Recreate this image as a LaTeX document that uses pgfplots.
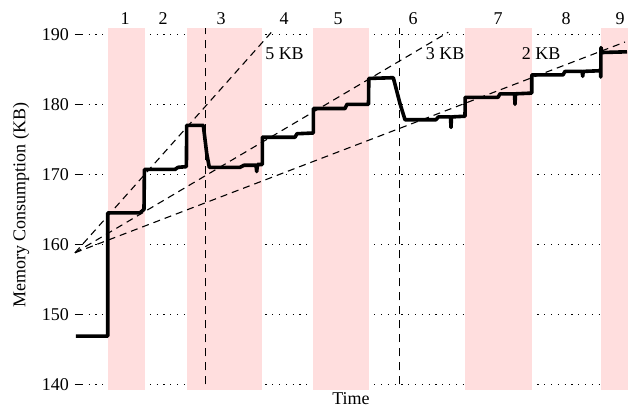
\documentclass[border=0pt]{standalone}
\usepackage{pgfplots}
\pgfplotsset{compat=1.18}
\usepackage{fontspec}
\setmainfont{Liberation Serif}
\definecolor{bandpink}{RGB}{255,222,222}
\begin{document}
\begin{tikzpicture}
\useasboundingbox (-75pt,-18pt) rectangle (553pt,390pt);
\begin{axis}[
  scale only axis, width=553pt, height=362pt,
  xmin=75, xmax=628, ymin=139.2, ymax=190.9,
  axis line style={draw=none},
  xtick=\empty,
  ytick={140,150,160,170,180,190},
  ytick pos=left, tick align=inside,
  major tick length=7pt,
  every tick/.style={black, line width=0.8pt},
  ymajorgrids,
  grid style={black, line width=0.8pt, dash pattern=on 1.2pt off 5.6pt},
  /pgf/number format/assume math mode=true,
  yticklabel style={font=\fontsize{18}{21}\selectfont, inner sep=0pt, xshift=-6pt},
  ylabel={Memory Consumption (KB)},
  ylabel style={font=\fontsize{18}{21}\selectfont, at={(axis description cs:-0.0977,0.511)}, anchor=center, rotate=0},
  xlabel={Time},
  xlabel style={font=\fontsize{18}{21}\selectfont, at={(axis description cs:0.499,-0.039)}, anchor=base, inner sep=0pt},
  clip=false,
]
% pink bands
\addplot[fill=bandpink, draw=none] coordinates {(107.7,139.2) (144.7,139.2) (144.7,190.9) (107.7,190.9)} -- cycle;
\addplot[fill=bandpink, draw=none] coordinates {(186.7,139.2) (262,139.2) (262,190.9) (186.7,190.9)} -- cycle;
\addplot[fill=bandpink, draw=none] coordinates {(312.7,139.2) (369,139.2) (369,190.9) (312.7,190.9)} -- cycle;
\addplot[fill=bandpink, draw=none] coordinates {(465,139.2) (532,139.2) (532,190.9) (465,190.9)} -- cycle;
\addplot[fill=bandpink, draw=none] coordinates {(601,139.2) (628,139.2) (628,190.9) (601,190.9)} -- cycle;
% vertical dashed
\addplot[black, line width=1.5pt, dash pattern=on 8pt off 6pt] coordinates {(205.7,140) (205.7,190.9)};
\addplot[black, line width=1.5pt, dash pattern=on 8pt off 6pt] coordinates {(399.3,140) (399.3,190.9)};
% slope lines
\addplot[black, line width=1.1pt, dash pattern=on 7pt off 5pt] coordinates {(75,158.8) (272.7,190.5)};
\addplot[black, line width=1.1pt, dash pattern=on 7pt off 5pt] coordinates {(75,158.8) (448.3,190.3)};
\addplot[black, line width=1.1pt, dash pattern=on 7pt off 5pt] coordinates {(75,158.8) (625,188.9)};
% memory trace
\addplot[black, line width=3.6pt, line join=round] coordinates {
(76,146.9) (107.7,146.9) (107.7,164.5) (140,164.5) (144,165.0) (144.4,170.7)
(175,170.7) (178,171.0) (186.4,171.1) (186.7,177.0) (203.3,177.0) (206.7,173.0) (209.3,171.0)
(240,171.0) (244,171.3) (256,171.3) (256.7,170.4) (257.5,171.4) (262.3,171.4) (262.3,175.3)
(295,175.3) (297,175.8) (313.3,175.9) (313.3,179.4) (345,179.4) (347,180.0) (368.5,180.0)
(368.8,183.7) (393.3,183.8) (400,180.1) (405,177.8) (436,177.8) (438.3,178.2)
(450.5,178.2) (451,176.7) (451.5,178.2) (465,178.3) (465.2,181.0) (498,181.0) (500,181.5)
(514.5,181.5) (515,180.0) (515.5,181.5) (531.7,181.6) (531.8,184.2) (563,184.2) (565,184.7)
(582.2,184.7) (582.7,184.0) (583.2,184.7) (600.5,184.8) (600.7,183.9) (601,188.1) (602,187.4) (627,187.5)
};
% labels
\begin{scope}[every node/.style={font=\fontsize{18}{21}\selectfont, inner sep=0pt}]
\node at (axis cs:125,192.2) {1};
\node at (axis cs:163,192.2) {2};
\node at (axis cs:221,192.2) {3};
\node at (axis cs:284,192.2) {4};
\node at (axis cs:338,192.2) {5};
\node at (axis cs:413,192.2) {6};
\node at (axis cs:498,192.2) {7};
\node at (axis cs:566,192.2) {8};
\node at (axis cs:620,192.2) {9};
\node at (axis cs:284.5,187.25) {5 KB};
\node at (axis cs:445,187.25) {3 KB};
\node at (axis cs:541,187.25) {2 KB};
\end{scope}
\end{axis}
\end{tikzpicture}
\end{document}
